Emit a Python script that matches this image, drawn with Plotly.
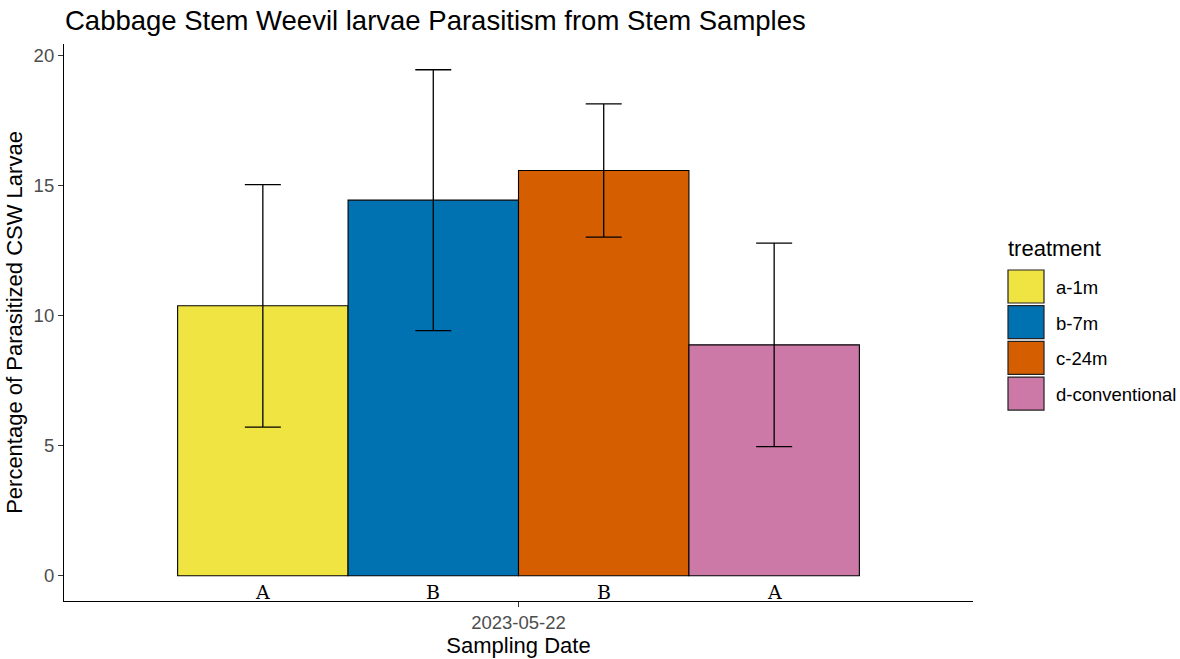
import plotly.graph_objects as go

# Data
sampling_date = ["2023-05-22"]
treatments = ["a-1m", "b-7m", "c-24m", "d-conventional"]
pct_parasitized = [10.37, 14.43, 15.57, 8.87]
std_err = [4.66, 5.01, 2.56, 3.91]
letters = ["A", "B", "B", "A"]
colors = ["#F0E442", "#0072B2", "#D55E00", "#CC79A7"]
y_ticks = [0, 5, 10, 15, 20]

W, H = 1180, 659
M_L, M_R, M_T, M_B = 64, 207, 44, 58
BARGAP = 0.1
SANS = "Liberation Sans, Arial"

fig = go.Figure()
for name, val, se, col in zip(treatments, pct_parasitized, std_err, colors):
    fig.add_trace(go.Bar(
        x=sampling_date, y=[val], name=name,
        marker=dict(color=col, line=dict(color="black", width=1.1)),
        error_y=dict(type="data", array=[se], visible=True,
                     color="black", thickness=1.3, width=18),
        showlegend=False,
    ))

# Compact-letter labels under each bar
n = len(treatments)
bar_w = (1 - BARGAP) / n
for i, lab in enumerate(letters):
    fig.add_annotation(
        x=-(1 - BARGAP) / 2 + bar_w * (i + 0.5), y=-0.62, xref="x", yref="y",
        text=lab, showarrow=False, yanchor="middle",
        font=dict(family="DejaVu Serif", size=19, color="black"),
    )

# Legend with large filled keys
plot_w = W - M_L - M_R
plot_h = H - M_T - M_B
def px_x(px):
    return (px - M_L) / plot_w
def px_y(py):
    return 1 - (py - M_T) / plot_h

fig.add_annotation(x=px_x(1006), y=px_y(249), xref="paper", yref="paper",
                   text="treatment", showarrow=False, xanchor="left", yanchor="middle",
                   font=dict(family=SANS, size=22, color="black"))
key_top, key_h, key_pitch = 270, 33, 35.7
for i, (name, col) in enumerate(zip(treatments, colors)):
    y0 = key_top + i * key_pitch
    fig.add_shape(type="rect", xref="paper", yref="paper",
                  x0=px_x(1008), x1=px_x(1044), y0=px_y(y0), y1=px_y(y0 + key_h),
                  fillcolor=col, line=dict(color="#222222", width=1.2))
    fig.add_annotation(x=px_x(1054), y=px_y(y0 + key_h / 2 + 1), xref="paper", yref="paper",
                       text=name, showarrow=False, xanchor="left", yanchor="middle",
                       font=dict(family=SANS, size=18.5, color="black"))

fig.update_layout(
    width=W, height=H,
    margin=dict(l=M_L, r=M_R, t=M_T, b=M_B, autoexpand=False),
    paper_bgcolor="white", plot_bgcolor="white",
    barmode="group", bargap=BARGAP, bargroupgap=0,
    title=dict(text="Cabbage Stem Weevil larvae Parasitism from Stem Samples",
               x=65 / W, xref="container", xanchor="left",
               y=1 - 20 / H, yref="container", yanchor="middle",
               font=dict(family=SANS, size=27.5, color="black")),
    font=dict(family=SANS),
)
fig.update_xaxes(
    type="category", range=[-0.6, 0.6], automargin=False,
    showline=True, linecolor="black", linewidth=1.2,
    ticks="outside", ticklen=5, tickcolor="#333333",
    tickfont=dict(size=18.5, color="#4D4D4D"),
    title=dict(text="Sampling Date", font=dict(size=22, color="black"), standoff=2),
    showgrid=False, zeroline=False,
)
fig.update_yaxes(
    range=[-0.973, 20.43], tickvals=y_ticks, automargin=False,
    showline=True, linecolor="black", linewidth=1.2,
    ticks="outside", ticklen=5, tickcolor="#333333",
    tickfont=dict(size=18.5, color="#4D4D4D"),
    title=dict(text="Percentage of Parasitized CSW Larvae", font=dict(size=22, color="black"), standoff=4),
    showgrid=False, zeroline=False,
)

fig.write_html("out.html")
